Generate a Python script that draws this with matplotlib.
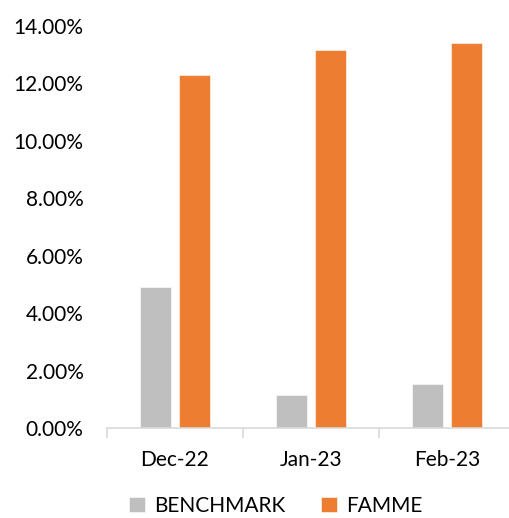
import numpy as np
import matplotlib.pyplot as plt
from matplotlib.ticker import PercentFormatter

""" Data """
months = ['Dec-22', 'Jan-23', 'Feb-23']
benchmark = [0.0491, 0.0115, 0.0153]
famme = [0.1230, 0.1317, 0.1340]
yticks = np.arange(0, 0.1401, 0.02)

gray = '#BFBFBF'
orange = '#ED7D31'
axis_col = '#D9D9D9'

plt.rcParams['font.family'] = ['Lato', 'DejaVu Sans']

""" Plot """
fig = plt.figure(figsize=(5.1, 5.18), dpi=100)
ax = fig.add_axes([107 / 510, 1 - 428 / 518, 408 / 510, 402 / 518])

x = np.arange(len(months))
w = 0.23
ax.bar(x - 0.142, benchmark, w, color=gray, edgecolor='white', linewidth=0.4, label='BENCHMARK')
ax.bar(x + 0.142, famme, w, color=orange, edgecolor='white', linewidth=0.4, label='FAMME')

ax.set_xlim(-0.5, len(months) - 0.5)
ax.set_ylim(0, 0.14)
ax.set_yticks(yticks)
ax.yaxis.set_major_formatter(PercentFormatter(1.0, decimals=2))

ax.set_xticks(x)
ax.set_xticklabels(months)
ax.set_xticks(np.arange(-0.5, len(months)), minor=True)
ax.tick_params(axis='x', which='major', length=0, pad=16, labelsize=15)
ax.tick_params(axis='x', which='minor', length=7, width=1.2, color=axis_col)
ax.tick_params(axis='y', length=0, pad=17, labelsize=15)

for s in ['top', 'right', 'left']:
    ax.spines[s].set_visible(False)
ax.spines['bottom'].set_color(axis_col)
ax.spines['bottom'].set_linewidth(1.2)

fig.legend(loc='center', bbox_to_anchor=(276 / 510, 0.024), ncol=2, frameon=False,
           fontsize=15, handlelength=0.75, handleheight=0.75, handletextpad=0.45,
           columnspacing=1.7)

fig.savefig('out.png', dpi=100)
